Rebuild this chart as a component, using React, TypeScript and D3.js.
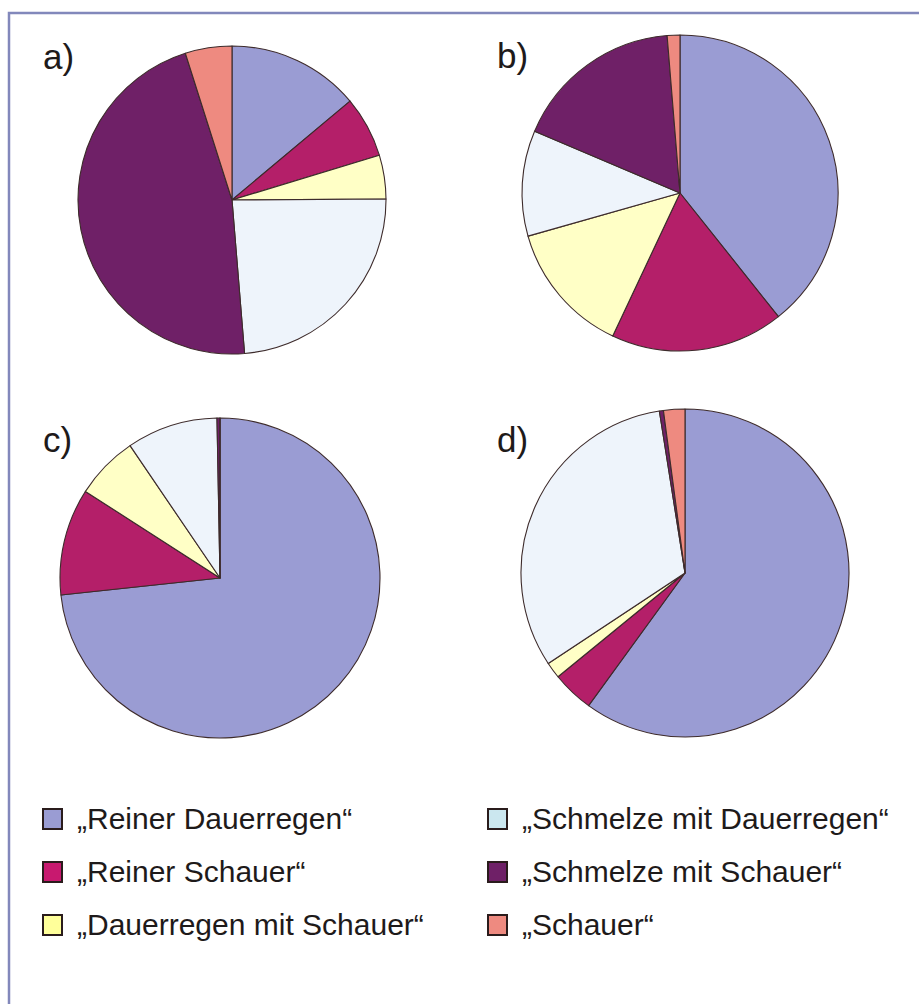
import React, { useEffect, useRef } from 'react';
import * as d3 from 'd3';

// categories in clockwise order starting at 12 o'clock
const CATEGORIES = [
  '„Reiner Dauerregen“',
  '„Reiner Schauer“',
  '„Dauerregen mit Schauer“',
  '„Schmelze mit Dauerregen“',
  '„Schmelze mit Schauer“',
  '„Schauer“',
];

const COLORS = ['#9a9cd3', '#b41f69', '#ffffc6', '#eef4fb', '#6f2067', '#ee8a80'];
const LEGEND_COLORS = ['#9a9cd3', '#c8196f', '#ffff9a', '#cbe7ef', '#6f2067', '#ee8a80'];

const PANEL_LABELS = ['a)', 'b)', 'c)', 'd)'];

// shares in percent
const VALUES_A = [13.9, 6.4, 4.6, 23.8, 46.4, 4.9];
const VALUES_B = [39.3, 17.7, 13.6, 10.8, 17.3, 1.3];
const VALUES_C = [73.3, 10.8, 6.4, 9.2, 0.3, 0];
const VALUES_D = [60.0, 4.1, 1.6, 31.8, 0.4, 2.1];

const PIE_VALUES = [VALUES_A, VALUES_B, VALUES_C, VALUES_D];

const App: React.FC = () => {
  const svgRef = useRef<SVGSVGElement>(null);

  useEffect(() => {
    if (!svgRef.current) return;
    const width = 919;
    const height = 1004;

    const svg = d3.select(svgRef.current)
      .attr('width', width)
      .attr('height', height);

    svg.selectAll('*').remove();

    svg.append('rect')
      .attr('width', width)
      .attr('height', height)
      .attr('fill', '#ffffff');

    // frame (top + left edge visible)
    svg.append('path')
      .attr('d', `M9,${height} L9,13 L${width},13`)
      .attr('fill', 'none')
      .attr('stroke', '#8288bb')
      .attr('stroke-width', 2.5);

    // pie geometry per panel
    const panels = [
      { cx: 232, cy: 200, r: 154, lx: 43, ly: 69 },
      { cx: 680, cy: 193, r: 158, lx: 497, ly: 68 },
      { cx: 220, cy: 578, r: 160, lx: 43, ly: 452 },
      { cx: 685, cy: 573, r: 164, lx: 497, ly: 452 },
    ];

    const pie = d3.pie<number>().sort(null).value(d => d);

    panels.forEach((p, i) => {
      const arc = d3.arc<d3.PieArcDatum<number>>().innerRadius(0).outerRadius(p.r);
      const g = svg.append('g').attr('transform', `translate(${p.cx},${p.cy})`);

      g.selectAll('path')
        .data(pie(PIE_VALUES[i]))
        .enter()
        .append('path')
        .attr('d', arc)
        .attr('fill', (_d, j) => COLORS[j])
        .attr('stroke', '#3d2b2b')
        .attr('stroke-width', 1.1)
        .attr('stroke-linejoin', 'round');

      svg.append('text')
        .attr('x', p.lx)
        .attr('y', p.ly)
        .attr('font-family', '"Liberation Sans", Arial, sans-serif')
        .attr('font-size', 35)
        .attr('fill', '#1e1a1a')
        .text(PANEL_LABELS[i]);
    });

    // legend, two columns of three
    const legendCols = [42, 487];
    const legendRows = [808, 861, 914];
    CATEGORIES.forEach((name, i) => {
      const col = Math.floor(i / 3);
      const row = i % 3;
      const x = legendCols[col];
      const y = legendRows[row];
      svg.append('rect')
        .attr('x', x + 1)
        .attr('y', y + 1)
        .attr('width', 19)
        .attr('height', 20)
        .attr('fill', LEGEND_COLORS[i])
        .attr('stroke', '#2a1c1c')
        .attr('stroke-width', 2);
      svg.append('text')
        .attr('x', x + 35)
        .attr('y', y + 21)
        .attr('font-family', '"Liberation Sans", Arial, sans-serif')
        .attr('font-size', 30)
        .attr('fill', '#1e1a1a')
        .text(name);
    });
  }, []);

  return (
    <div style={{ position: 'absolute', left: 0, top: 0, width: 919, height: 1004 }}>
      <svg ref={svgRef} style={{ display: 'block' }}></svg>
    </div>
  );
};

export default App;
